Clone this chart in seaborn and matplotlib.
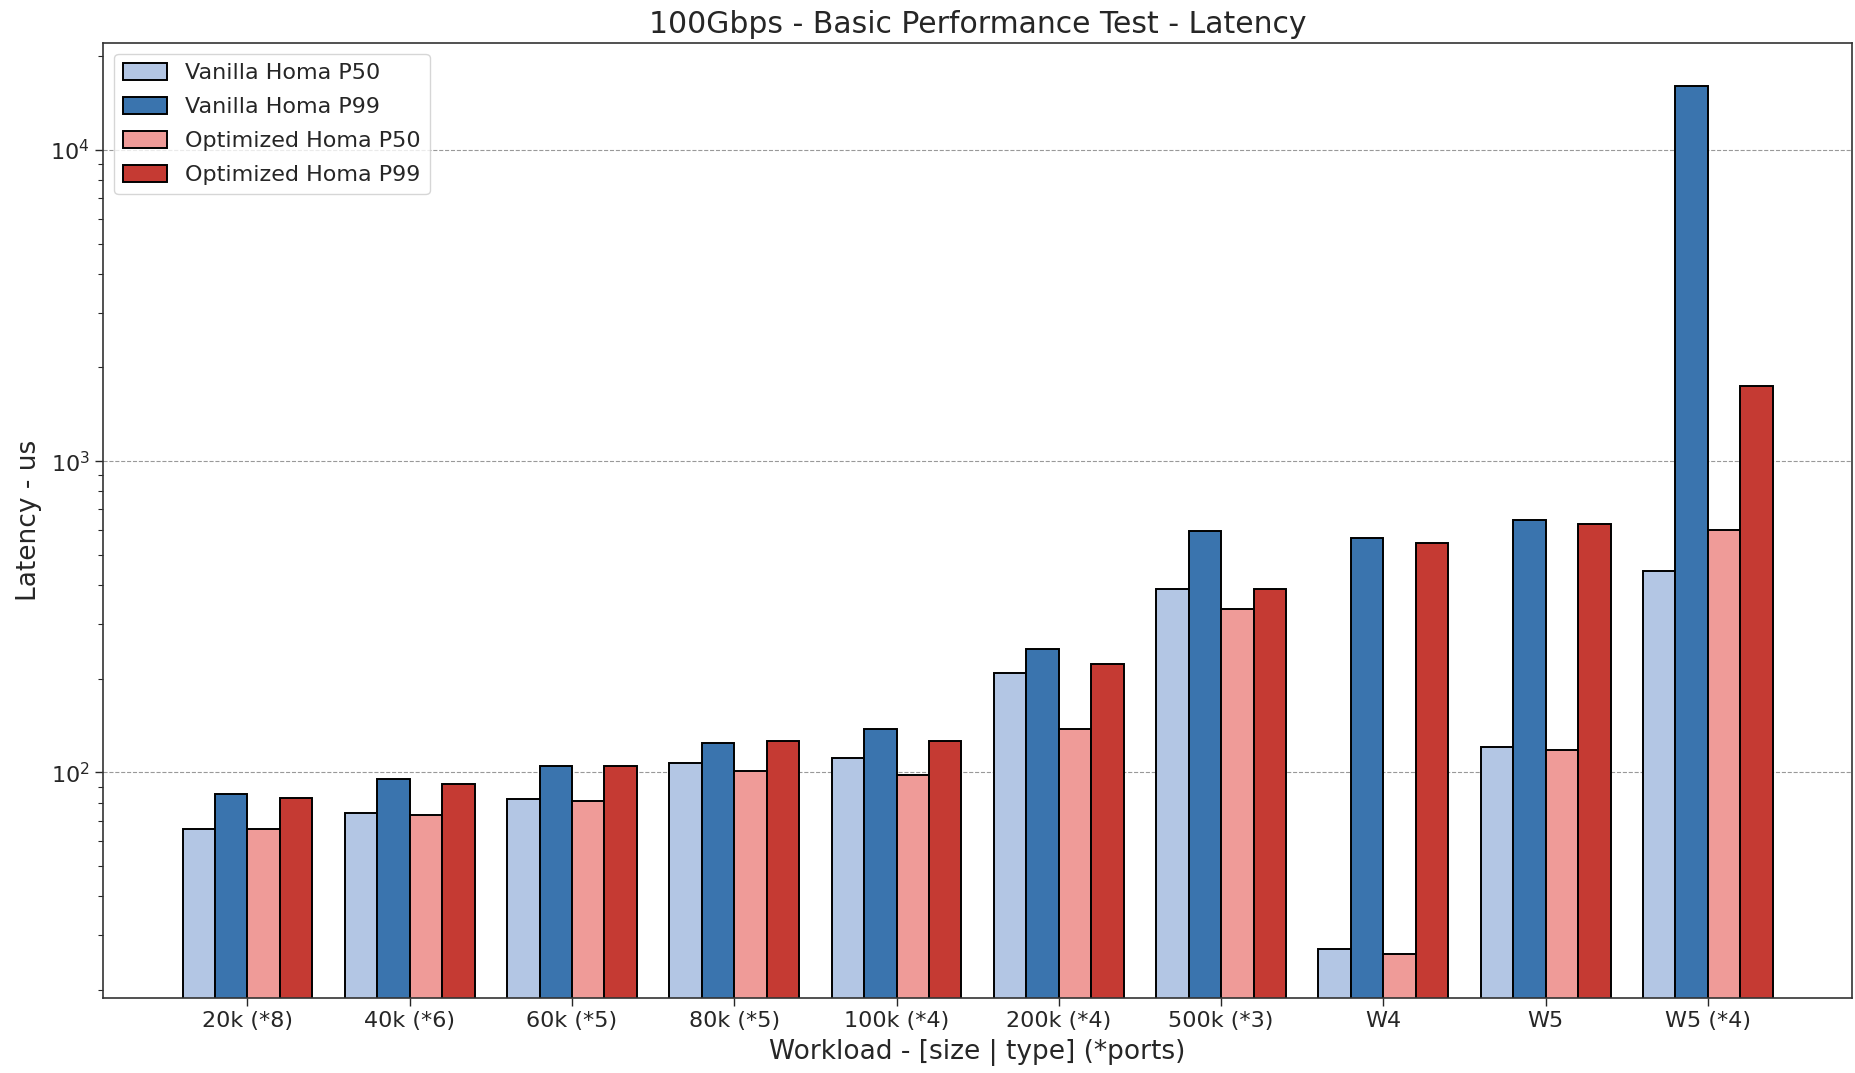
import numpy as np
import pandas as pd
import seaborn as sns
import matplotlib
matplotlib.use("Agg")
import matplotlib.pyplot as plt

workloads = ["20k (*8)", "40k (*6)", "60k (*5)", "80k (*5)", "100k (*4)",
             "200k (*4)", "500k (*3)", "W4", "W5", "W5 (*4)"]
series_names = ["Vanilla Homa P50", "Vanilla Homa P99",
                "Optimized Homa P50", "Optimized Homa P99"]

vanilla_p50 = [66, 74, 82, 107, 111, 208, 387, 27, 121, 444]
vanilla_p99 = [85, 95, 105, 124, 138, 250, 596, 568, 645, 16000]
optimized_p50 = [66, 73, 81, 101, 98, 138, 334, 26, 118, 600]
optimized_p99 = [83, 92, 105, 126, 126, 223, 387, 545, 629, 1740]

colors = ["#b3c6e4", "#3a74ae", "#ef9b98", "#c53a33"]

sns.set_style("white")
plt.rcParams["font.family"] = ["DejaVu Sans"]

df = pd.DataFrame({
    "Workload": workloads * 4,
    "Series": np.repeat(series_names, len(workloads)),
    "Latency": vanilla_p50 + vanilla_p99 + optimized_p50 + optimized_p99,
})

fig = plt.figure(figsize=(18.56, 10.73), dpi=100)
ax = fig.add_axes([0.0555, 0.070, 0.9425, 0.890])
ax.set_yscale("log")

sns.barplot(data=df, x="Workload", y="Latency", hue="Series",
            order=workloads, hue_order=series_names, palette=colors,
            edgecolor="black", linewidth=1.4, width=0.8, saturation=1,
            errorbar=None, ax=ax)

vals = np.log10(df["Latency"].to_numpy())
lo, hi = vals.min(), vals.max()
span = hi - lo
ax.set_ylim(10 ** (lo - 0.05 * span), 10 ** (hi + 0.05 * span))
ax.set_xlim(-0.89, len(workloads) - 1 + 0.89)

ax.grid(axis="y", which="major", linestyle="--", color="gray",
        linewidth=0.8, alpha=0.8)
ax.set_axisbelow(True)

for s in ax.spines.values():
    s.set_visible(True)
    s.set_color("#333333")
    s.set_linewidth(1.2)

ax.tick_params(axis="both", which="major", labelsize=16, length=6,
               width=1, direction="out", bottom=True, left=True)
ax.tick_params(axis="y", which="minor", length=3.5, width=0.8, left=True)

ax.set_title("100Gbps - Basic Performance Test - Latency", fontsize=21.5, pad=7)
ax.set_xlabel("Workload - [size | type] (*ports)", fontsize=19, labelpad=6)
ax.set_ylabel("Latency - us", fontsize=19, labelpad=6)

leg = ax.legend(loc="upper left", fontsize=16, frameon=True,
                handlelength=2.0, handleheight=0.8, borderpad=0.4,
                labelspacing=0.62)
leg.get_frame().set_edgecolor("#cccccc")

fig.savefig("out.png", dpi=100)
